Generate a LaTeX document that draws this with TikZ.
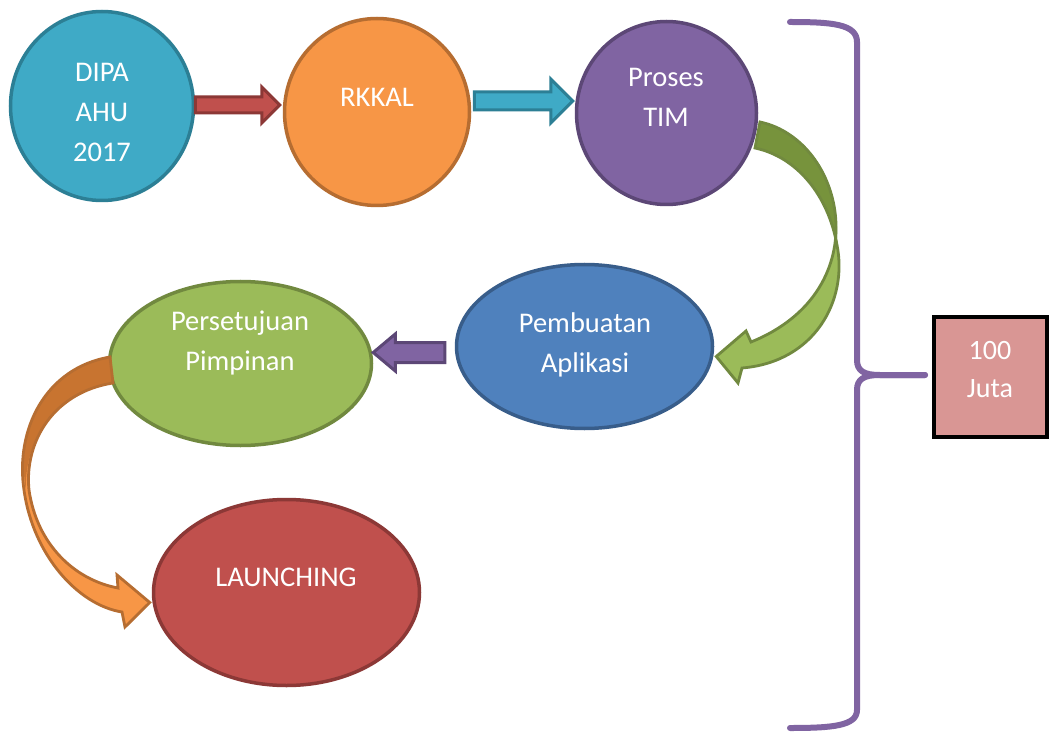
\documentclass[tikz,border=0pt]{standalone}
\usepackage{fontspec}
\setmainfont{Carlito}
\usetikzlibrary{shapes.geometric,calc}
\definecolor{aquaF}{HTML}{3FAAC6}\definecolor{aquaD}{HTML}{2C7F95}
\definecolor{orF}{HTML}{F79646}\definecolor{orD}{HTML}{B66D31}\definecolor{orM}{HTML}{C87430}
\definecolor{puF}{HTML}{8064A2}\definecolor{puD}{HTML}{5C4776}
\definecolor{blF}{HTML}{4F81BD}\definecolor{blD}{HTML}{385D8A}
\definecolor{grF}{HTML}{9BBB59}\definecolor{grD}{HTML}{71893F}\definecolor{grM}{HTML}{77933C}
\definecolor{rdF}{HTML}{C0504D}\definecolor{rdD}{HTML}{8C3836}
\definecolor{boxF}{HTML}{D99694}
\newcommand\blockarrow[6]{%
  \filldraw[#1] let \p1=#2, \p2=#3, \n1={sign(\x2-\x1)} in
   (\x1,\y2+#4) -- (\x2-\n1*#6,\y2+#4) -- (\x2-\n1*#6,\y2+#5) -- (\x2,\y2)
   -- (\x2-\n1*#6,\y2-#5) -- (\x2-\n1*#6,\y2-#4) -- (\x1,\y2-#4) -- cycle;}
\begin{document}
\begin{tikzpicture}[x=1pt,y=-1pt,
  ell/.style={ellipse,inner sep=0pt,line width=3.5pt},
  lbl/.style={text=white,font=\fontsize{28.5}{40}\selectfont,align=center,inner sep=0pt},
  blk/.style={line width=3pt,line join=miter},
  rib/.style={line width=2.8pt,line join=miter},
  bracestyle/.style={draw=puF,line width=6pt,line cap=round,line join=round}]
\fill[white] (0,0) rectangle (1049,735);
\useasboundingbox (0,0) rectangle (1049,735);

% shapes
\node[ell,fill=aquaF,draw=aquaD,minimum width=183pt,minimum height=189pt] (dipa) at (102,106) {};
\node[ell,fill=orF,draw=orD,minimum width=185pt,minimum height=187pt] (rkkal) at (377,112) {};
\node[ell,fill=puF,draw=puD,minimum width=180pt,minimum height=183pt] (proses) at (666.5,113) {};
\node[ell,fill=blF,draw=blD,minimum width=256pt,minimum height=164pt] (pemb) at (584.5,346.5) {};
\node[ell,fill=grF,draw=grD,minimum width=262pt,minimum height=164pt] (pers) at (240.5,363.5) {};
\node[ell,fill=rdF,draw=rdD,minimum width=266pt,minimum height=186pt] (launch) at (286.5,592.5) {};
\node[draw=black,fill=boxF,line width=4pt,minimum width=113pt,minimum height=120pt,inner sep=0pt] (juta) at (990.5,377) {};

% labels
\node[lbl] (dipaT) at (102,112) {DIPA\\AHU\\2017};
\node[lbl] (rkkalT) at (377,97) {RKKAL};
\node[lbl] (prosesT) at (666,97) {Proses\\TIM};
\node[lbl] (pembT) at (585,345) {Pembuatan\\Aplikasi};
\node[lbl] (persT) at (240,343) {Persetujuan\\Pimpinan};
\node[lbl] (launchT) at (286,577) {LAUNCHING};
\node[lbl,font=\fontsize{28}{38}\selectfont] (jutaT) at (990,370) {100\\Juta};

% straight block arrows
\blockarrow{blk,fill=rdF,draw=rdD}{(dipa.east)}{($(rkkal.west)+(-3,-7)$)}{8pt}{18pt}{18pt}
\blockarrow{blk,fill=aquaF,draw=aquaD}{($(rkkal.east)+(3,0)$)}{($(proses.west)+(-2,-12)$)}{9pt}{22pt}{22pt}
\blockarrow{blk,fill=puF,draw=puD}{($(pemb.west)+(-10,0)$)}{($(pers.east)+(0,-11)$)}{10pt}{18.5pt}{22pt}

% curved green arrow (Proses TIM -> Pembuatan Aplikasi)
\coordinate (g1) at (760,122);
\coordinate (g2) at (755,148);
\coordinate (gtip) at ($(pemb.east)+(2,10)$);
\fill[grF] (g1) .. controls (845,140) and (880,290) .. (751,342) -- (746,331) -- (gtip) -- (738,383) -- (742,368)
  .. controls (815,362) and (848,300) .. (837,245) .. controls (828,195) and (797,157) .. (g2) -- cycle;
\fill[grM] (g1) .. controls (815,135) and (840,185) .. (837,245) .. controls (828,195) and (797,157) .. (g2) -- cycle;
\draw[rib,draw=grD] (g1) .. controls (845,140) and (880,290) .. (751,342) -- (746,331) -- (gtip) -- (738,383) -- (742,368)
  .. controls (815,362) and (848,300) .. (837,245) .. controls (828,195) and (797,157) .. (g2) -- cycle;

% curved orange arrow (Persetujuan -> LAUNCHING)
\coordinate (o1) at (110,357);
\coordinate (o2) at (113,383);
\coordinate (otip) at ($(launch.west)+(-2,10)$);
\fill[orF] (o1) .. controls (45,368) and (15,430) .. (24,490) .. controls (33,555) and (78,605) .. (122,612)
  -- (125,627) -- (otip) -- (117,575) -- (118,588)
  .. controls (75,580) and (37,545) .. (29,490) .. controls (24,440) and (55,392) .. (o2) -- cycle;
\fill[orM] (o1) .. controls (45,368) and (15,430) .. (26,490) .. controls (24,440) and (55,392) .. (o2) -- cycle;
\draw[rib,draw=orD] (o1) .. controls (45,368) and (15,430) .. (24,490) .. controls (33,555) and (78,605) .. (122,612)
  -- (125,627) -- (otip) -- (117,575) -- (118,588)
  .. controls (75,580) and (37,545) .. (29,490) .. controls (24,440) and (55,392) .. (o2) -- cycle;

% brace to the 100 Juta box
\coordinate (btip) at ($(juta.west)+(-7,-2)$);
\draw[bracestyle] (790,22) .. controls (832,22) and (857,24) .. (857,42) -- (857,360)
  .. controls (857,371) and (864,375) .. (880,375) -- (btip);
\draw[bracestyle] (btip) -- (880,375) .. controls (864,375) and (857,379) .. (857,390) -- (857,710)
  .. controls (857,726) and (832,728) .. (790,728);
\end{tikzpicture}
\end{document}
